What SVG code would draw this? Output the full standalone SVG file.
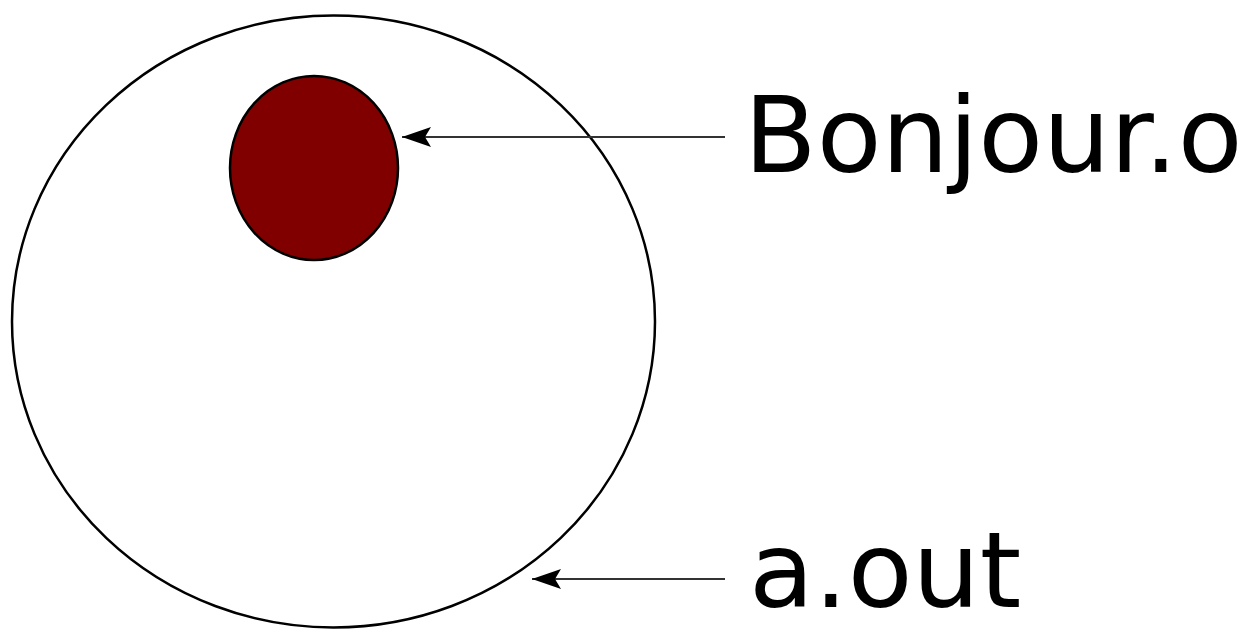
<svg xmlns="http://www.w3.org/2000/svg" width="1241" height="630" viewBox="0 0 1241 630">
<style>
.lbl{font-family:"DejaVu Sans",sans-serif;font-size:106px;fill:#000}
.conn{stroke:#333;stroke-width:2;fill:none}
</style>
<defs>
<marker id="ah" markerUnits="userSpaceOnUse" markerWidth="32" markerHeight="22" refX="30" refY="11" orient="auto" viewBox="0 0 32 22">
<path d="M30,11 L1,1 L7,11 L1,21 Z" fill="#000"/>
</marker>
</defs>
<rect width="1241" height="630" fill="#fff"/>
<g id="aout-node">
<ellipse cx="333.5" cy="321.5" rx="321.5" ry="306" fill="#fff" stroke="#000" stroke-width="2.5"/>
</g>
<g id="bonjour-node">
<ellipse cx="314" cy="168" rx="84" ry="92" fill="#800000" stroke="#000" stroke-width="2.5"/>
</g>
<g id="connectors">
<line class="conn" x1="725" y1="137" x2="402" y2="137" marker-end="url(#ah)"/>
<line class="conn" x1="725" y1="579" x2="532" y2="579" marker-end="url(#ah)"/>
</g>
<g id="labels">
<text class="lbl" x="744" y="172">Bonjour.o</text>
<text class="lbl" x="749" y="607">a.out</text>
</g>
</svg>
